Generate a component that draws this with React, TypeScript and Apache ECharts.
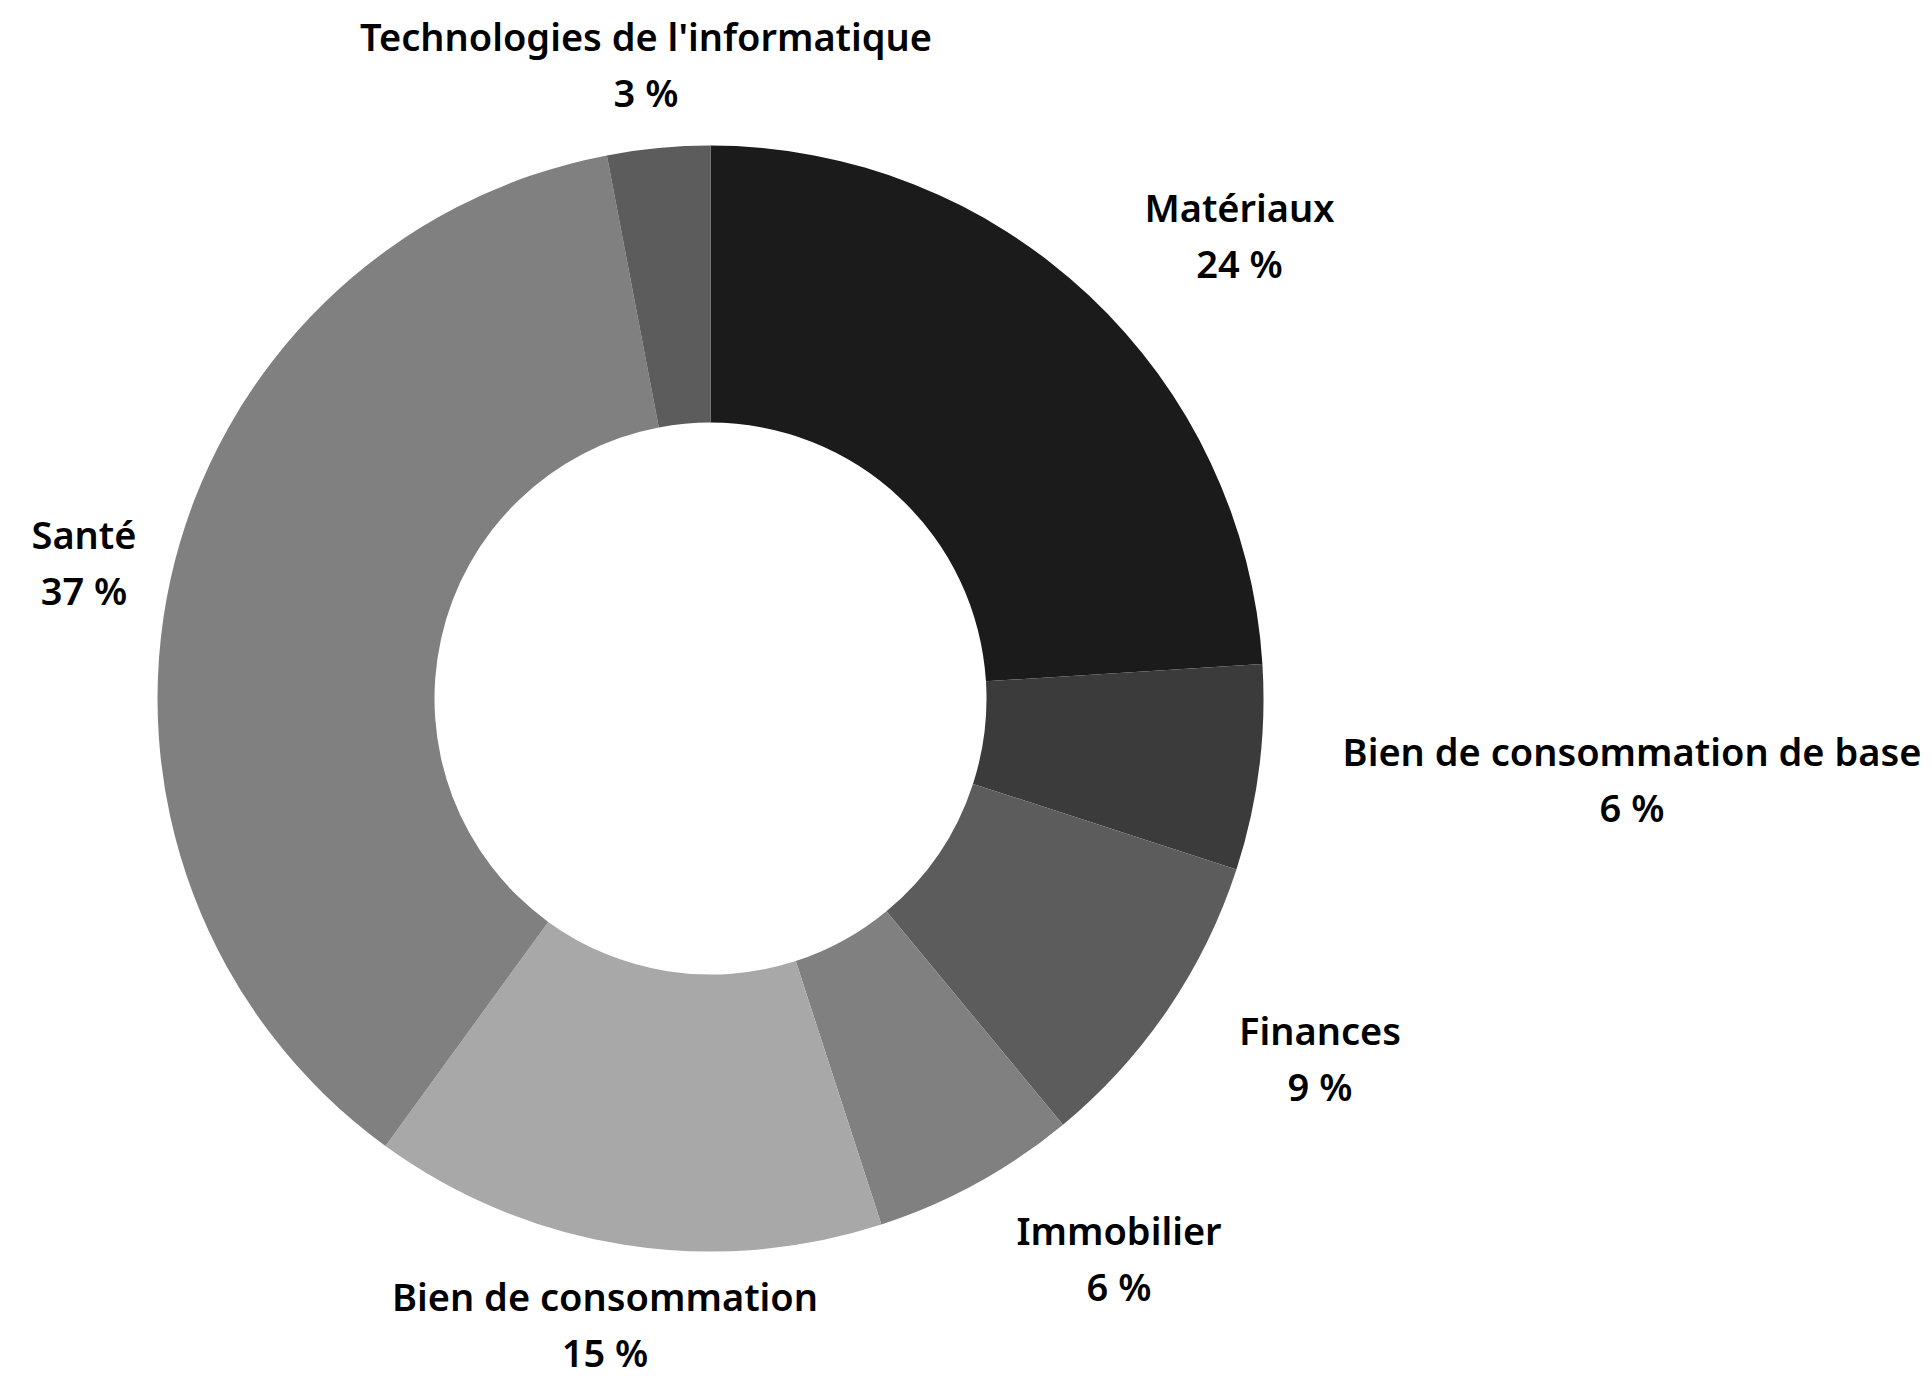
import React, { useEffect, useRef } from "react";
import * as echarts from "echarts";

const categories = [
  "Matériaux",
  "Bien de consommation de base",
  "Finances",
  "Immobilier",
  "Bien de consommation",
  "Santé",
  "Technologies de l'informatique",
];
const values = [24, 6, 9, 6, 15, 37, 3];
const colors = ["#1b1b1b", "#3b3b3b", "#5c5c5c", "#808080", "#a8a8a8", "#808080", "#5c5c5c"];

// label anchor points (visual centre of the two-line label block), in px
const labelAnchors: [number, number][] = [
  [1239.5, 235],
  [1632, 779],
  [1320, 1058],
  [1119, 1258],
  [605, 1324],
  [84, 562],
  [646, 64],
];

const W = 1932;
const H = 1377;
const SHIFT = 8; // visual centre of rich block lies SHIFT px below its box centre

export default function App() {
  const ref = useRef<HTMLDivElement>(null);
  useEffect(() => {
    document.body.style.margin = "0";
    const chart = echarts.init(ref.current!, null, { renderer: "svg" });
    const textStyle = {
      fontFamily: "Noto Sans",
      fontWeight: 600,
      fontSize: 38,
      color: "#000000",
    };
    chart.setOption({
      animation: false,
      backgroundColor: "#ffffff",
      series: [
        {
          type: "pie",
          center: [710.5, 698.6],
          radius: [276, 553],
          startAngle: 90,
          clockwise: true,
          avoidLabelOverlap: false,
          itemStyle: { borderWidth: 0 },
          label: {
            show: true,
            position: "outside",
            formatter: "{t|{b}}\n{v|{c} %}",
            align: "center",
            rich: {
              t: { ...textStyle, lineHeight: 72, align: "center" },
              v: { ...textStyle, lineHeight: 40, align: "center" },
            },
          },
          labelLine: { show: false },
          labelLayout: (params: any) => {
            const p = labelAnchors[params.dataIndex];
            return { x: p[0], y: p[1] - SHIFT, align: "center", verticalAlign: "middle" };
          },
          emphasis: { disabled: true },
          data: categories.map((name, i) => ({
            name,
            value: values[i],
            itemStyle: { color: colors[i] },
          })),
        },
      ],
    });
    return () => chart.dispose();
  }, []);
  return <div ref={ref} style={{ width: W, height: H }} />;
}
